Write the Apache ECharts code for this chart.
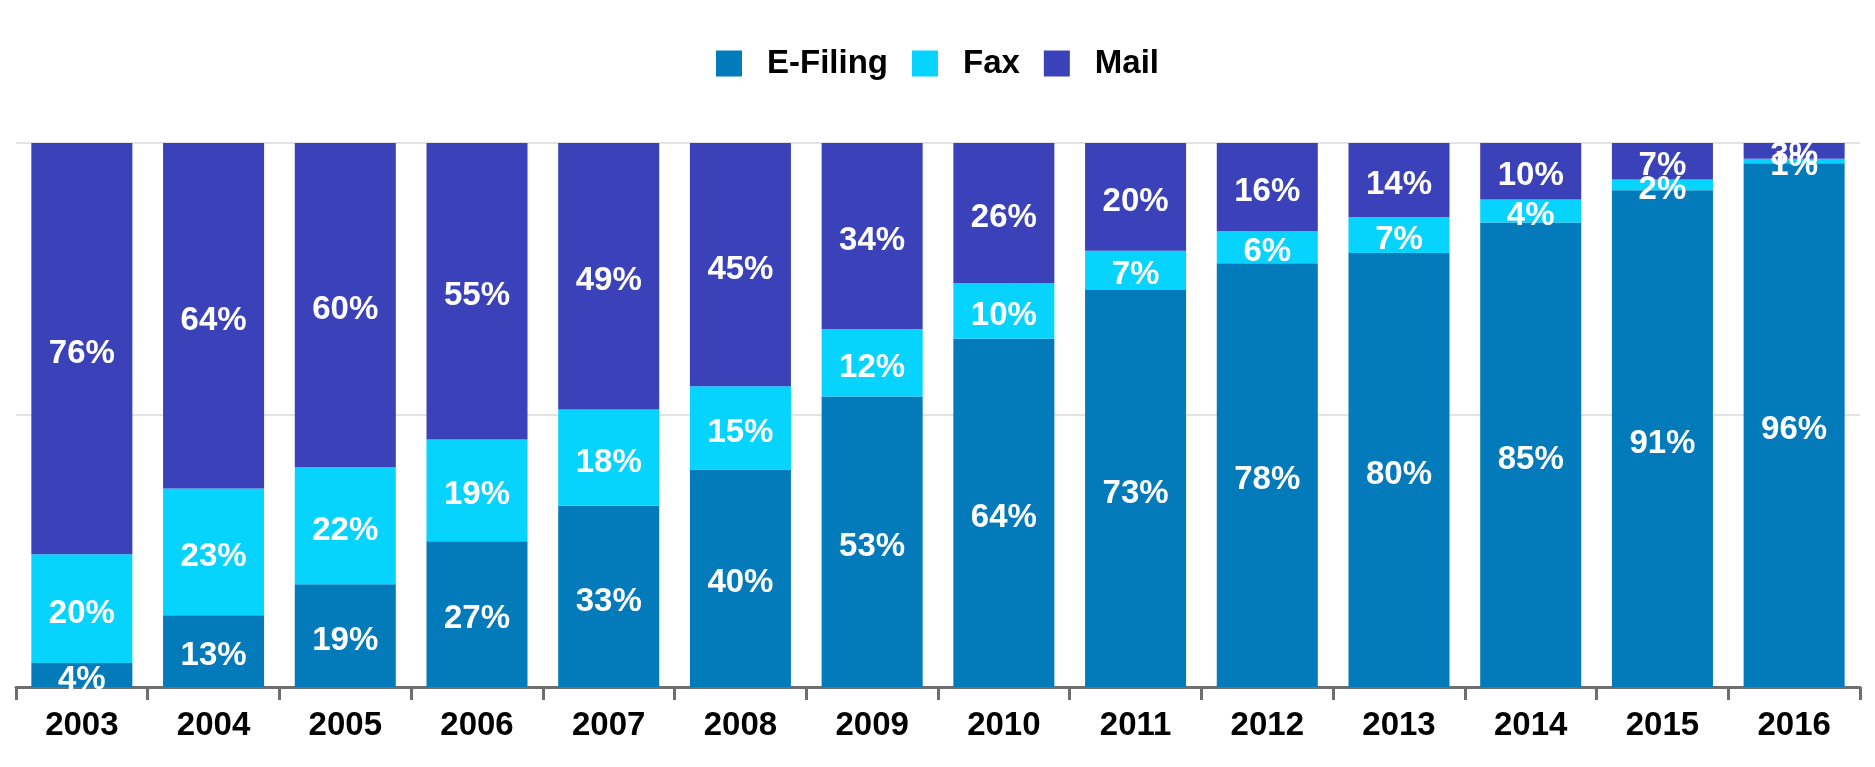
<!DOCTYPE html>
<html>
<head>
<meta charset="utf-8">
<script src="https://cdn.jsdelivr.net/npm/echarts@6/dist/echarts.min.js"></script>
<style>
html,body{margin:0;padding:0;background:#fff;}
#chart{width:1875px;height:767px;}
</style>
</head>
<body>
<div id="chart"></div>
<script>
const years = ['2003','2004','2005','2006','2007','2008','2009','2010','2011','2012','2013','2014','2015','2016'];
const eFiling = [4.4, 13.2, 18.9, 26.8, 33.3, 40.0, 53.4, 64.0, 73.0, 77.9, 79.8, 85.4, 91.3, 96.3];
const fax     = [20.0, 23.3, 21.5, 18.7, 17.7, 15.3, 12.4, 10.2, 7.2, 5.9, 6.6, 4.2, 2.0, 0.8];
const mail    = [75.6, 63.5, 59.6, 54.5, 49.0, 44.7, 34.2, 25.8, 19.8, 16.2, 13.6, 10.4, 6.7, 2.9];
const seriesNames = ['E-Filing', 'Fax', 'Mail'];
const colors = ['#037ABA', '#06D3FE', '#3B42B9'];

const FONT = '"Liberation Sans", Arial, sans-serif';
const chart = echarts.init(document.getElementById('chart'));
const labelCfg = {
  show: true,
  position: 'inside',
  offset: [0, 5],
  color: '#fff',
  fontFamily: FONT,
  fontWeight: 'bold',
  fontSize: 33,
  formatter: p => Math.round(p.value) + '%'
};
const mk = (name, data, color) => ({
  name, type: 'bar', stack: 'total', data,
  itemStyle: { color },
  barCategoryGap: '23.3%',
  label: labelCfg,
  emphasis: { disabled: true }
});
chart.setOption({
  animation: false,
  color: colors,
  legend: {
    top: 42,
    left: 'center',
    itemWidth: 26,
    itemHeight: 26,
    itemGap: 24,
    icon: 'rect',
    data: seriesNames,
    textStyle: { fontFamily: FONT, fontWeight: 'bold', fontSize: 33, color: '#000', padding: [0,0,0,20] }
  },
  grid: { left: 16, right: 15, top: 143, bottom: 80, containLabel: false },
  xAxis: {
    type: 'category',
    data: years,
    axisLine: { lineStyle: { color: '#6e6e6e', width: 3 } },
    axisTick: { show: true, length: 13, lineStyle: { color: '#6e6e6e', width: 3 } },
    axisLabel: { color: '#000', fontFamily: FONT, fontWeight: 'bold', fontSize: 33, margin: 22 }
  },
  yAxis: {
    type: 'value',
    min: 0, max: 100, interval: 50,
    axisLabel: { show: false },
    axisLine: { show: false },
    axisTick: { show: false },
    splitLine: { lineStyle: { color: '#e3e3e3', width: 2 } }
  },
  series: [
    mk(seriesNames[0], eFiling, colors[0]),
    mk(seriesNames[1], fax, colors[1]),
    mk(seriesNames[2], mail, colors[2])
  ]
});
</script>
</body>
</html>
